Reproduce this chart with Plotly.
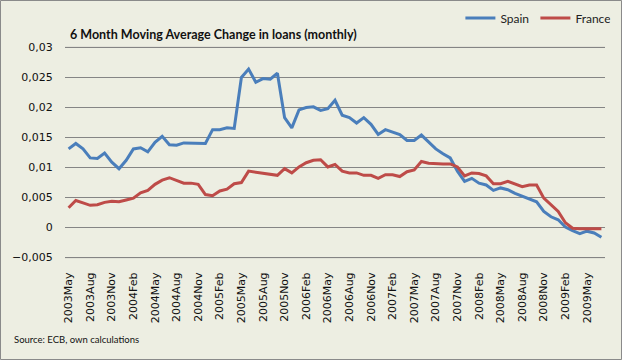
import plotly.graph_objects as go

# ---- data ----
month_names = ["Jan", "Feb", "Mar", "Apr", "May", "Jun", "Jul", "Aug", "Sep", "Oct", "Nov", "Dec"]
start_year, start_month = 2003, 5  # 2003May
n_months = 75

spain = [0.0131, 0.0140, 0.0131, 0.0116, 0.0115, 0.0124, 0.0109, 0.0098, 0.0112, 0.0131,
         0.0133, 0.0126, 0.0142, 0.0152, 0.0138, 0.0137, 0.0141, 0.0141, 0.0140, 0.0140,
         0.0163, 0.0163, 0.0166, 0.0165, 0.0250, 0.0264, 0.0242, 0.0248, 0.0247, 0.0257,
         0.0183, 0.0166, 0.0196, 0.0200, 0.0201, 0.0195, 0.0198, 0.0212, 0.0187, 0.0183,
         0.0174, 0.0183, 0.0172, 0.0155, 0.0163, 0.0159, 0.0155, 0.0145, 0.0145, 0.0154,
         0.0143, 0.0131, 0.0123, 0.0116, 0.0094, 0.0077, 0.0082, 0.0074, 0.0071, 0.0062,
         0.0066, 0.0063, 0.0057, 0.0052, 0.0048, 0.0043, 0.0027, 0.0018, 0.0013, 0.0001,
         -0.0005, -0.0010, -0.0006, -0.0009, -0.0016]

france = [0.0033, 0.0045, 0.0041, 0.0037, 0.0038, 0.0042, 0.0044, 0.0043, 0.0046, 0.0049,
          0.0058, 0.0062, 0.0072, 0.0079, 0.0083, 0.0078, 0.0074, 0.0074, 0.0072, 0.0055,
          0.0053, 0.0061, 0.0064, 0.0073, 0.0075, 0.0094, 0.0092, 0.0091, 0.0089, 0.0087,
          0.0098, 0.0091, 0.0101, 0.0108, 0.0112, 0.0113, 0.0101, 0.0105, 0.0094, 0.0091,
          0.0091, 0.0087, 0.0087, 0.0082, 0.0088, 0.0088, 0.0085, 0.0093, 0.0096, 0.0110,
          0.0107, 0.0106, 0.0106, 0.0106, 0.0101, 0.0086, 0.0091, 0.0090, 0.0086, 0.0073,
          0.0073, 0.0077, 0.0072, 0.0068, 0.0071, 0.0071, 0.0049, 0.0038, 0.0027, 0.0008,
          -0.0001, -0.0002, -0.0002, -0.0002, -0.0002]

x_tick_labels = ["2003May", "2003Aug", "2003Nov", "2004Feb", "2004May", "2004Aug", "2004Nov",
                 "2005Feb", "2005May", "2005Aug", "2005Nov", "2006Feb", "2006May", "2006Aug",
                 "2006Nov", "2007Feb", "2007May", "2007Aug", "2007Nov", "2008Feb", "2008May",
                 "2008Aug", "2008Nov", "2009Feb", "2009May"]

y_min, y_max, y_step = -0.005, 0.03, 0.005

months = []
for k in range(n_months):
    m = start_month - 1 + k
    months.append(f"{start_year + m // 12}{month_names[m % 12]}")

# ---- figure ----
W, H = 622, 360
ML, MR, MT, MB = 65, 17, 45, 100
BG = "#EDEEE2"
GRID = "#858585"
pad = 0.0004

fig = go.Figure()
fig.add_trace(go.Scatter(x=months, y=spain, mode="lines", name="Spain",
                         line=dict(color="#4A7EBB", width=3)))
fig.add_trace(go.Scatter(x=months, y=france, mode="lines", name="France",
                         line=dict(color="#BE4B48", width=3)))

pw = W - ML - MR
ph = H - MT - MB

edge_lines = [dict(type="line", xref="paper", yref="y", x0=0, x1=1, y0=v, y1=v,
                   line=dict(color=GRID, width=1), layer="above")
              for v in (y_min, y_max)]

fig.update_layout(
    template="none",
    width=W, height=H,
    margin=dict(l=ML, r=MR, t=MT, b=MB, pad=0, autoexpand=False),
    paper_bgcolor=BG, plot_bgcolor=BG,
    separators=", ",
    showlegend=True,
    legend=dict(orientation="h", x=1.01, xanchor="right", y=1 + 27 / ph, yanchor="middle",
                font=dict(family="Lato, Liberation Sans", size=12, color="#222"),
                bgcolor="rgba(0,0,0,0)", itemwidth=30, tracegroupgap=0,
                entrywidth=30, entrywidthmode="pixels"),
    font=dict(family="DejaVu Sans", color="#111"),
    annotations=[
        dict(text="<b>6 Month Moving Average Change in loans (monthly)</b>",
             xref="paper", yref="paper", x=3 / pw, y=1 + 11 / ph,
             xanchor="left", yanchor="middle", showarrow=False,
             font=dict(family="Lato", size=12.5, color="#111")),
        dict(text="Source: ECB, own calculations",
             xref="paper", yref="paper", x=-(ML - 12) / pw, y=-(339 - (H - MB)) / ph,
             xanchor="left", yanchor="middle", showarrow=False,
             font=dict(family="Lato", size=9.5, color="#111")),
    ],
    shapes=edge_lines + [
        dict(type="rect", xref="paper", yref="paper",
             x0=-(ML - 0.5) / pw, x1=1 + (MR - 0.5) / pw,
             y0=-(MB - 0.5) / ph, y1=1 + (MT - 0.5) / ph,
             line=dict(color="#8A8A8A", width=1), fillcolor="rgba(0,0,0,0)", layer="above"),
    ],
)
fig.update_xaxes(
    type="category", categoryorder="array", categoryarray=months,
    range=[-0.5, n_months - 0.5],
    tickmode="array", tickvals=x_tick_labels, ticktext=x_tick_labels,
    tickangle=-90, tickfont=dict(family="DejaVu Sans", size=11, color="#111"),
    showgrid=False, showline=False, zeroline=False,
    ticks="outside", ticklen=7, tickcolor=BG,
)
fig.update_yaxes(
    range=[y_min - pad, y_max + pad], tickmode="linear", tick0=y_min, dtick=y_step,
    tickfont=dict(family="DejaVu Sans", size=11, color="#111"),
    showgrid=True, gridcolor=GRID, gridwidth=1,
    zeroline=False, showline=False,
    ticks="outside", ticklen=9, tickcolor=BG,
)

fig.write_html("out.html", config={"displayModeBar": False},
               post_script="document.body.style.margin='0';document.body.style.padding='0';")
